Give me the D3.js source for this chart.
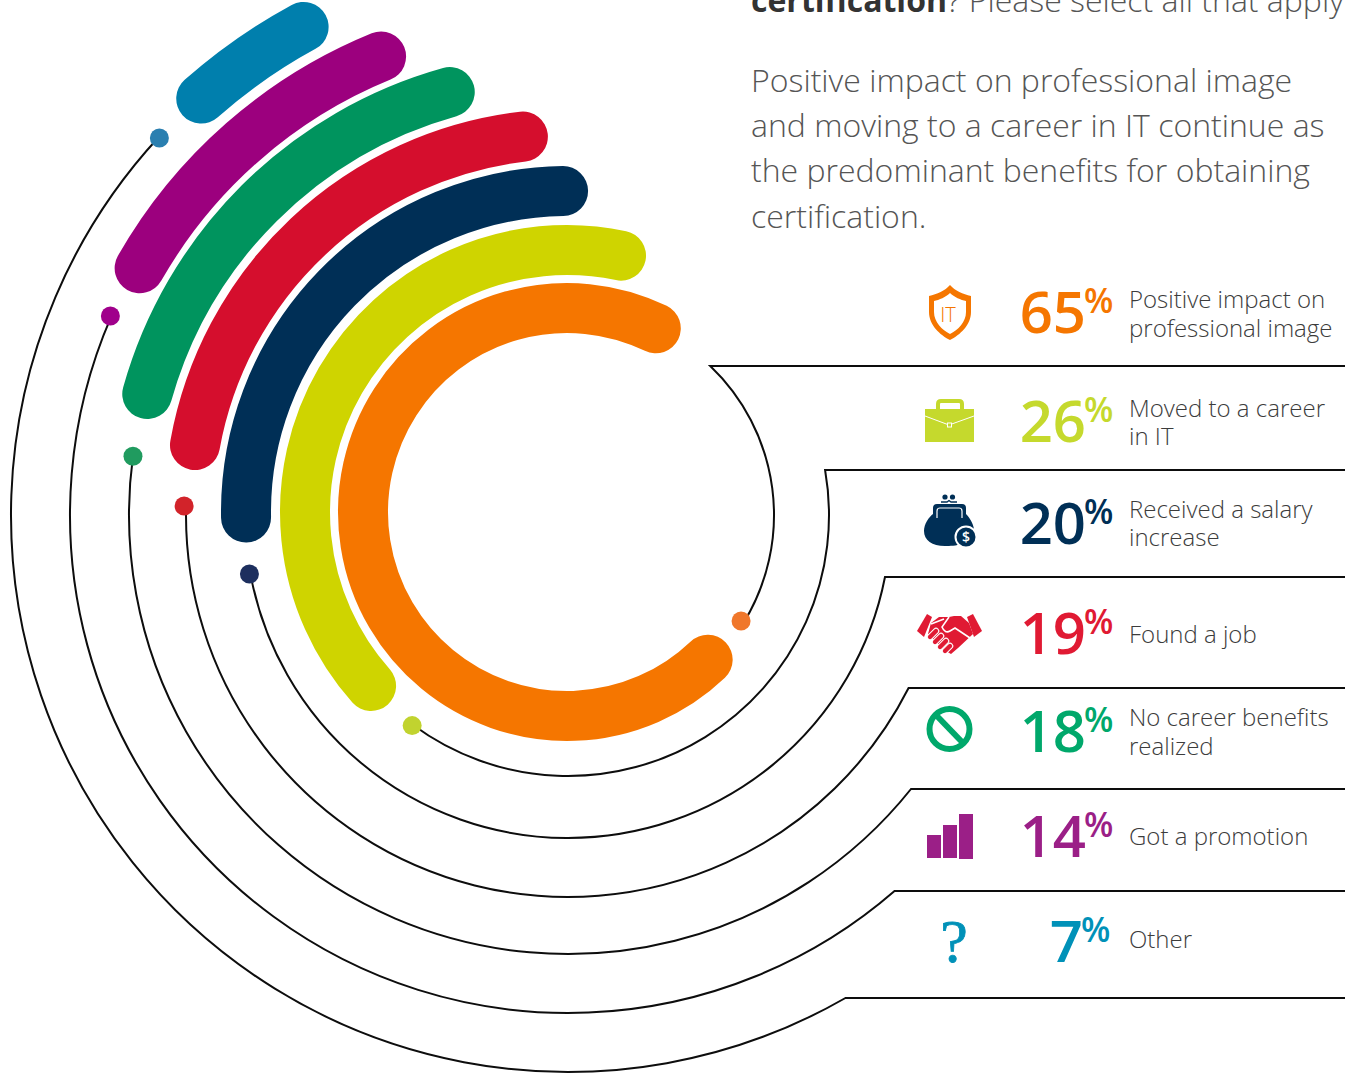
<!DOCTYPE html>
<html>
<head>
<meta charset="utf-8">
<script src="https://cdnjs.cloudflare.com/ajax/libs/d3/7.8.5/d3.min.js"></script>
<style>
	html, body { margin: 0; padding: 0; background: #fff; overflow: hidden; }
	text { font-family: "Open Sans", sans-serif; }
</style>
</head>
<body>
<div id="chart"></div>
<script>
// values as printed next to each ring
var categories = ["Positive impact on professional image", "Moved to a career in IT", "Received a salary increase",
	"Found a job", "No career benefits realized", "Got a promotion", "Other"];
var percent_values = [65, 26, 20, 19, 18, 14, 7];
var label_lines = [["Positive impact on", "professional image"], ["Moved to a career", "in IT"], ["Received a salary", "increase"],
	["Found a job"], ["No career benefits", "realized"], ["Got a promotion"], ["Other"]];
// ring ends, degrees clockwise from 12 o'clock (rings are not drawn to scale in the original)
var arc_start_deg = [25.8, 11.9, -0.7, -6.7, -15.6, -22.2, -28.5];
var arc_end_deg = [-223.6, -131.6, -91, -79.8, -74.3, -60.3, -41.5];
var dot_deg = [121.5, -143.5, -100.5, -88.66, -82.3, -66.5, -47.3];

var paragraph_lines = ["Positive impact on professional image", "and moving to a career in IT continue as",
	"the predominant benefits for obtaining", "certification."];

// layout
var width = 1345, height = 1074;
var ring_cx = 567, ring_cy = 512;
var cx = 568, cy = 515;
var arc_radius = [204, 262, 321, 378, 436, 492, 552];
var leader_radius = [206, 261, 323, 382, 439, 498, 557];
var dot_radius = [203, 262, 324, 384, 439, 499, 556];
var row_line_y = [366, 470, 577, 688, 789, 891, 998];
var number_y = [333, 442, 544, 654, 752, 857, 962];
var label_y = [[308, 337], [417, 445], [518, 546], [643], [726, 755], [845], [948]];
var arc_colors = ["#f57600", "#cfd400", "#002f56", "#d50e2d", "#00945e", "#9c007e", "#007fad"];
var dot_colors = ["#f0772b", "#c1d32f", "#1d2f5e", "#d2232a", "#209b5f", "#a0008b", "#2a7fb0"];
var text_colors = ["#f57600", "#c5d92d", "#002f56", "#e01a33", "#00a86b", "#9b1f87", "#0091b8"];

var svg = d3.select("#chart").append("svg")
	.attr("width", width)
	.attr("height", height)
	.style("display", "block");

var r_arc = d3.scaleOrdinal().domain(categories).range(arc_radius);
var r_leader = d3.scaleOrdinal().domain(categories).range(leader_radius);
var r_dot = d3.scaleOrdinal().domain(categories).range(dot_radius);
// degrees from 12 o'clock to canvas radians
var angle = d3.scaleLinear().domain([0, 360]).range([-Math.PI / 2, Math.PI * 1.5]);

function draw_rings(){
	categories.forEach(function(c, i){
		var p = d3.path();
		p.arc(ring_cx, ring_cy, r_arc(c), angle(arc_start_deg[i]), angle(arc_end_deg[i]), true);
		svg.append("path")
			.attr("d", p.toString())
			.attr("fill", "none")
			.attr("stroke", arc_colors[i])
			.attr("stroke-width", 50)
			.attr("stroke-linecap", "round");
	});
}

function draw_leaders(){
	categories.forEach(function(c, i){
		var r = r_leader(c);
		var dy = row_line_y[i] - cy;
		var corner_x = cx + Math.sqrt(r * r - dy * dy);
		// the leader runs from the dot, round the bottom, up to the row rule
		var a0 = angle(dot_deg[i]);
		var a1 = Math.atan2(dy, corner_x - cx);
		var p = d3.path();
		p.arc(cx, cy, r, a0, a1, true);
		p.lineTo(width + 5, row_line_y[i]);
		svg.append("path")
			.attr("d", p.toString())
			.attr("fill", "none")
			.attr("stroke", "#0d0d0d")
			.attr("stroke-width", 2);
		svg.append("circle")
			.attr("cx", cx + r_dot(c) * Math.cos(a0))
			.attr("cy", cy + r_dot(c) * Math.sin(a0))
			.attr("r", 9.5)
			.attr("fill", dot_colors[i]);
	});
}

function draw_texts(){
	svg.append("text")
		.attr("x", 751).attr("y", 11.5)
		.attr("font-size", 32).attr("fill", "#555")
		.attr("font-weight", 300)
		.call(function(t){
			t.append("tspan").attr("font-weight", 700).attr("fill", "#333").text("certification");
			t.append("tspan").text("? Please select all that apply");
		});
	svg.selectAll(".para")
		.data(paragraph_lines)
		.enter().append("text")
		.attr("class", "para")
		.attr("x", 751)
		.attr("y", function(d, i){ return 91.5 + i * 45.4; })
		.attr("font-size", 32)
		.attr("font-weight", 300)
		.attr("fill", "#555")
		.text(function(d){ return d; });

	percent_values.forEach(function(v, i){
		var x_shift = v < 10 ? -3 : 0;
		svg.append("text")
			.attr("x", 1086 + x_shift).attr("y", number_y[i])
			.attr("text-anchor", "end")
			.attr("font-size", 58).attr("font-weight", 600)
			.attr("fill", text_colors[i])
			.text(v);
		svg.append("text")
			.attr("x", 1084 + x_shift).attr("y", number_y[i] - 20)
			.attr("font-size", 34).attr("font-weight", 600)
			.attr("fill", text_colors[i])
			.text("%");
		label_lines[i].forEach(function(line, j){
			svg.append("text")
				.attr("x", 1129).attr("y", label_y[i][j])
				.attr("font-size", 24).attr("font-weight", 300)
				.attr("fill", "#3c3c3c")
				.text(line);
		});
	});
}

function draw_icons(){
	var g;
	// shield
	g = svg.append("g");
	g.append("path").attr("fill", text_colors[0])
		.attr("d", "M950 285C955 291 963 294 971 296L971 312C971 325 960 335 950 340C940 335 929 325 929 312L929 296C937 294 945 291 950 285Z");
	g.append("path").attr("fill", "#fff")
		.attr("d", "M950 293C954 297 961 300 966 301L966 312C966 322 958 330 950 334C942 330 934 322 934 312L934 301C939 300 946 297 950 293Z");
	g.append("text").attr("x", 948).attr("y", 322).attr("text-anchor", "middle")
		.attr("font-size", 20).attr("font-weight", 300).attr("fill", text_colors[0]).text("IT");

	// briefcase
	g = svg.append("g");
	g.append("rect").attr("x", 925).attr("y", 409).attr("width", 49).attr("height", 33).attr("fill", text_colors[1]);
	g.append("path").attr("d", "M938 409V404Q938 401 941 401H959Q962 401 962 404V409").attr("fill", "none")
		.attr("stroke", text_colors[1]).attr("stroke-width", 4);
	g.append("path").attr("d", "M925 416L949 425L974 416").attr("fill", "none").attr("stroke", "#fff").attr("stroke-width", 1);
	g.append("rect").attr("x", 947.5).attr("y", 423).attr("width", 4).attr("height", 4).attr("fill", text_colors[1]).attr("stroke", "#fff").attr("stroke-width", 1);

	// purse
	g = svg.append("g").attr("fill", text_colors[2]);
	g.append("path").attr("d", "M933 508Q933 504 937 504H962Q966 504 966 508L966 514C972 520 975 528 974 534C970 545 955 546 945 546C932 546 924 540 924 531C924 524 929 517 933 514Z");
	g.append("path").attr("d", "M937 518V511Q937 508 940 508H959Q962 508 962 511V518").attr("fill", "none").attr("stroke", "#fff").attr("stroke-width", 1.2);
	g.append("circle").attr("cx", 945).attr("cy", 497).attr("r", 2.6);
	g.append("circle").attr("cx", 952.5).attr("cy", 497).attr("r", 2.6);
	g.append("path").attr("d", "M941 502H947L949 500.5L951 502H957").attr("fill", "none").attr("stroke", text_colors[2]).attr("stroke-width", 1.4);
	g.append("circle").attr("cx", 966).attr("cy", 537).attr("r", 10.5).attr("stroke", "#fff").attr("stroke-width", 2);
	g.append("text").attr("x", 966).attr("y", 542).attr("text-anchor", "middle")
		.attr("font-size", 14).attr("font-weight", 600).attr("fill", "#fff").text("$");

	// handshake
	g = svg.append("g");
	g.append("path").attr("fill", text_colors[3]).attr("d", "M917 631L927 614L932 617L924 637Z");
	g.append("path").attr("fill", text_colors[3]).attr("d", "M982 631L973 614L967 617L974 637Z");
	g.append("path").attr("fill", text_colors[3])
		.attr("d", "M931 623L939 617L949 617L954 616L961 616L969 623L973 634L958 648L951 654L944 650L936 642L928 634Z");
	[[930, 637, 936, 631], [935, 642, 941, 636], [940, 647, 946, 641], [945, 651, 950, 646]].forEach(function(f){
		g.append("line").attr("x1", f[0]).attr("y1", f[1]).attr("x2", f[2]).attr("y2", f[3])
			.attr("stroke", "#fff").attr("stroke-width", 6.5).attr("stroke-linecap", "round");
		g.append("line").attr("x1", f[0]).attr("y1", f[1]).attr("x2", f[2]).attr("y2", f[3])
			.attr("stroke", text_colors[3]).attr("stroke-width", 4.4).attr("stroke-linecap", "round");
	});
	g.append("path").attr("fill", "none").attr("stroke", "#fff").attr("stroke-width", 1.6)
		.attr("d", "M949 617L942 627Q945 634 950 631L955 628L970 638M931 624L944 619");

	// no sign
	g = svg.append("g").attr("fill", "none").attr("stroke", text_colors[4]).attr("stroke-width", 6);
	g.append("circle").attr("cx", 949.5).attr("cy", 729).attr("r", 20);
	g.append("line").attr("x1", 936).attr("y1", 715).attr("x2", 963).attr("y2", 743);

	// bars
	g = svg.append("g").attr("fill", text_colors[5]);
	g.append("rect").attr("x", 927).attr("y", 835).attr("width", 14).attr("height", 23);
	g.append("rect").attr("x", 943).attr("y", 825).attr("width", 14).attr("height", 33);
	g.append("rect").attr("x", 959).attr("y", 814).attr("width", 14).attr("height", 45);

	// question mark
	svg.append("text").attr("x", 954).attr("y", 962).attr("text-anchor", "middle")
		.style("font-family", "'Liberation Serif', serif").attr("font-size", 62)
		.attr("fill", text_colors[6]).attr("stroke", text_colors[6]).attr("stroke-width", 0.8).text("?");
}

draw_rings();
draw_leaders();
draw_texts();
draw_icons();
</script>
</body>
</html>
